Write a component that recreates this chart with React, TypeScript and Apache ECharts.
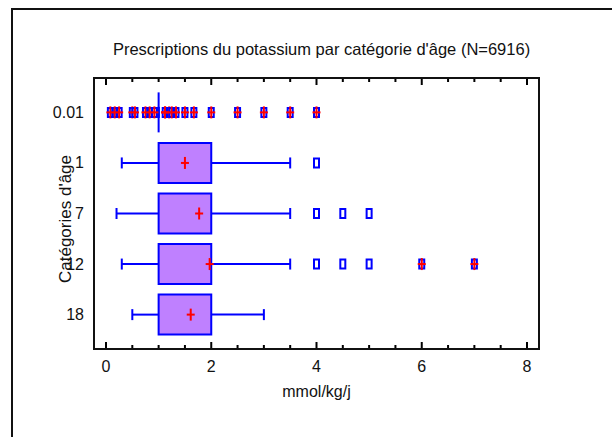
import React, { useEffect, useRef } from "react";
import * as echarts from "echarts";

const categories = ["0.01", "1", "7", "12", "18"];
const whiskerLow = [1, 0.3, 0.2, 0.3, 0.5];
const quartile1 = [1, 1, 1, 1, 1];
const quartile3 = [1, 2, 2, 2, 2];
const whiskerHigh = [1, 3.5, 3.5, 3.5, 3];
const means = [1.12, 1.5, 1.77, 1.97, 1.61];
const mildOutliers = [[], [4], [4, 4.5, 5], [4, 4.5, 5], []];
const extremeOutliers = [
  [0.083, 0.167, 0.25, 0.5, 0.55, 0.75, 0.83, 0.92, 1.125, 1.2, 1.25, 1.33, 1.5, 1.67, 2, 2.5, 3, 3.5, 4],
  [],
  [],
  [6, 7],
  [],
];
const xMajorTicks = [0, 2, 4, 6, 8];
const xMinorTicks = [0.5, 1, 1.5, 2.5, 3, 3.5, 4.5, 5, 5.5, 6.5, 7, 7.5];
const title = "Prescriptions du potassium par catégorie d'âge (N=6916)";
const xName = "mmol/kg/j";
const yName = "Catégories d'âge";

const FONT = "'Liberation Sans', Arial, sans-serif";
const BLUE = "#0000FF";
const RED = "#FF0000";
const PURPLE = "#BF80FF";
const INK = "#000";
const Y_MIN = -0.68;
const Y_MAX = 4.68;

export default function App() {
  const ref = useRef<HTMLDivElement>(null);
  useEffect(() => {
    if (!ref.current) return;
    const chart = echarts.init(ref.current, undefined, { renderer: "svg" });

    const boxData = categories.map((_, i) => [i, whiskerLow[i], quartile1[i], quartile3[i], whiskerHigh[i]]);
    const meanData = categories.map((_, i) => [means[i], i]);
    const mildData: number[][] = [];
    mildOutliers.forEach((arr, i) => arr.forEach((v) => mildData.push([v, i])));
    const extremeData: number[][] = [];
    extremeOutliers.forEach((arr, i) => arr.forEach((v) => extremeData.push([v, i])));
    const tickData = [
      ...xMajorTicks.map((v) => [v, 1]),
      ...xMinorTicks.map((v) => [v, 0]),
    ];

    const plus = (api: any, w: number, h: number) => {
      const p = api.coord([api.value(0), api.value(1)]);
      const st = { stroke: RED, lineWidth: 2 };
      return {
        type: "group",
        children: [
          { type: "line", shape: { x1: p[0] - w / 2, y1: p[1], x2: p[0] + w / 2, y2: p[1] }, style: st },
          { type: "line", shape: { x1: p[0], y1: p[1] - h / 2, x2: p[0], y2: p[1] + h / 2 }, style: st },
        ],
      };
    };

    const rectMarker = (api: any) => {
      const p = api.coord([api.value(0), api.value(1)]);
      return {
        type: "rect",
        shape: { x: p[0] - 2.5, y: p[1] - 4.5, width: 5, height: 9 },
        style: { fill: "none", stroke: BLUE, lineWidth: 2 },
      };
    };

    chart.setOption({
      animation: false,
      backgroundColor: "#fff",
      title: {
        text: title,
        left: 316.5,
        top: 35,
        textAlign: "center",
        textStyle: { fontFamily: FONT, fontSize: 16.5, fontWeight: "normal", color: "#111" },
      },
      graphic: [
        {
          type: "rect",
          shape: { x: 12, y: 9, width: 700, height: 600 },
          style: { fill: "none", stroke: "#111", lineWidth: 2 },
          silent: true,
        },
        {
          type: "rect",
          shape: { x: 94, y: 78, width: 445, height: 271 },
          style: { fill: "none", stroke: "#111", lineWidth: 2 },
          silent: true,
          z: 10,
        },
        {
          type: "text",
          x: 65,
          y: 219,
          rotation: Math.PI / 2,
          style: {
            text: yName,
            textAlign: "center",
            textVerticalAlign: "middle",
            fontFamily: FONT,
            fontSize: 17,
            fill: "#111",
          },
          silent: true,
        },
      ],
      grid: {
        left: 106,
        right: 85,
        top: 78,
        bottom: 88,
        show: false,
      },
      xAxis: {
        type: "value",
        min: 0,
        max: 8,
        interval: 2,
        position: "bottom",
        splitLine: { show: false },
        axisLine: { show: false, onZero: false },
        axisTick: { show: false },
        name: xName,
        nameLocation: "middle",
        nameGap: 34,
        nameMoveOverlap: false,
        nameTextStyle: { fontFamily: FONT, fontSize: 16, color: "#111" },
        axisLabel: { show: true, margin: 9, fontFamily: FONT, fontSize: 16, color: "#111" },
      },
      yAxis: {
        type: "value",
        inverse: true,
        min: Y_MIN,
        max: Y_MAX,
        splitLine: { show: false },
        axisLine: { show: false, onZero: false },
        axisTick: { show: false },
        axisLabel: {
          customValues: [0, 1, 2, 3, 4],
          formatter: (v: number) => categories[Math.round(v)] ?? "",
          margin: 22,
          fontFamily: FONT,
          fontSize: 16,
          color: "#111",
        },
      },
      series: [
        {
          type: "custom",
          data: tickData,
          clip: false,
          silent: true,
          renderItem: (params: any, api: any) => {
            const v = api.value(0);
            const len = api.value(1) ? 7 : 4;
            const top = api.coord([v, Y_MIN]);
            const bot = api.coord([v, Y_MAX]);
            const st = { stroke: INK, lineWidth: 2 };
            return {
              type: "group",
              children: [
                { type: "line", shape: { x1: bot[0], y1: bot[1], x2: bot[0], y2: bot[1] - len }, style: st },
                { type: "line", shape: { x1: top[0], y1: top[1], x2: top[0], y2: top[1] + len }, style: st },
              ],
            };
          },
          z: 1,
        },
        {
          type: "custom",
          data: boxData,
          encode: { x: [1, 2, 3, 4], y: 0 },
          renderItem: (params: any, api: any) => {
            const y = api.value(0);
            const pLo = api.coord([api.value(1), y]);
            const pQ1 = api.coord([api.value(2), y]);
            const pQ3 = api.coord([api.value(3), y]);
            const pHi = api.coord([api.value(4), y]);
            const h = 40;
            const cap = 11;
            const ls = { stroke: BLUE, lineWidth: 2 };
            const children: any[] = [
              { type: "line", shape: { x1: pLo[0], y1: pLo[1], x2: pQ1[0], y2: pQ1[1] }, style: ls },
              { type: "line", shape: { x1: pQ3[0], y1: pQ3[1], x2: pHi[0], y2: pHi[1] }, style: ls },
              { type: "line", shape: { x1: pLo[0], y1: pLo[1] - cap / 2, x2: pLo[0], y2: pLo[1] + cap / 2 }, style: ls },
              { type: "line", shape: { x1: pHi[0], y1: pHi[1] - cap / 2, x2: pHi[0], y2: pHi[1] + cap / 2 }, style: ls },
            ];
            const w = pQ3[0] - pQ1[0];
            if (w > 0.5) {
              children.push({
                type: "rect",
                shape: { x: pQ1[0], y: pQ1[1] - h / 2, width: w, height: h },
                style: { fill: PURPLE, stroke: BLUE, lineWidth: 2 },
              });
            } else {
              children.push({
                type: "line",
                shape: { x1: pQ1[0], y1: pQ1[1] - h / 2, x2: pQ1[0], y2: pQ1[1] + h / 2 },
                style: ls,
              });
            }
            return { type: "group", children };
          },
          z: 2,
        },
        {
          type: "custom",
          data: mildData,
          renderItem: (params: any, api: any) => rectMarker(api),
          z: 3,
        },
        {
          type: "custom",
          data: extremeData,
          renderItem: (params: any, api: any) => ({
            type: "group",
            children: [rectMarker(api), plus(api, 8, 12)],
          }),
          z: 4,
        },
        {
          type: "custom",
          data: meanData,
          renderItem: (params: any, api: any) => plus(api, 8, 12),
          z: 5,
        },
      ],
    });
    return () => chart.dispose();
  }, []);

  return (
    <div
      ref={ref}
      style={{ position: "fixed", left: 0, top: 0, width: 612, height: 437, background: "#fff" }}
    />
  );
}
